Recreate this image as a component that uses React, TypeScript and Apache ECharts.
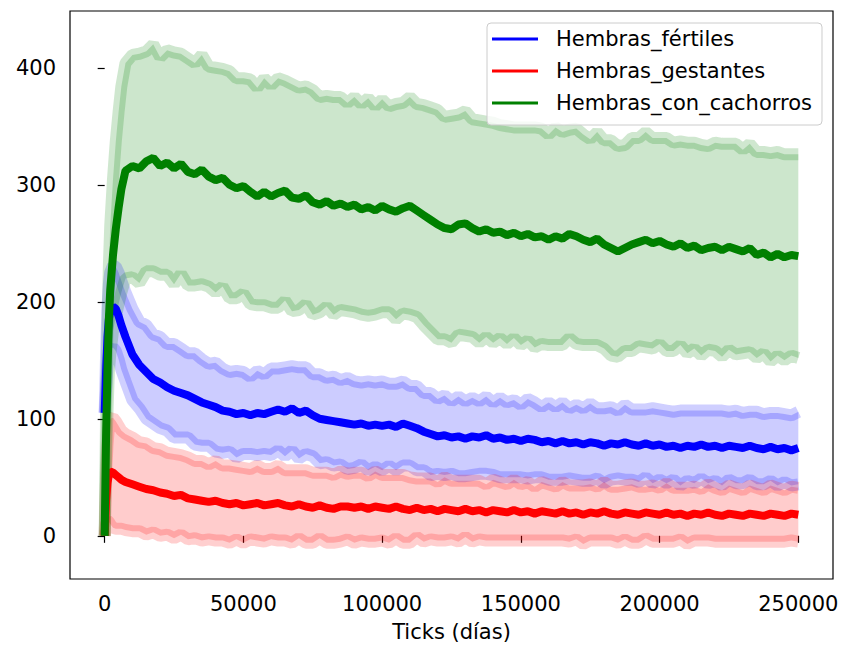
import React, { useEffect, useRef } from "react";
import * as echarts from "echarts";

const FONT = "DejaVu Sans";

const X = [
  0, 500, 1000, 1500, 2000, 3000, 4000, 5000, 6000, 7500, 10000,
  12500, 15000, 17500, 20000, 22500, 25000, 27500, 30000, 32500, 35000,
  37500, 40000, 42500, 45000, 47500, 50000, 52500, 55000, 57500, 60000,
  62500, 65000, 67500, 70000, 72500, 75000, 77500, 80000, 82500, 85000,
  87500, 90000, 92500, 95000, 97500, 100000, 102500, 105000, 107500, 110000,
  112500, 115000, 117500, 120000, 122500, 125000, 127500, 130000, 132500, 135000,
  137500, 140000, 142500, 145000, 147500, 150000, 152500, 155000, 157500, 160000,
  162500, 165000, 167500, 170000, 172500, 175000, 177500, 180000, 182500, 185000,
  187500, 190000, 192500, 195000, 197500, 200000, 202500, 205000, 207500, 210000,
  212500, 215000, 217500, 220000, 222500, 225000, 227500, 230000, 232500, 235000,
  237500, 240000, 242500, 245000, 247500, 250000,
];

const greenMean = [
  0, 85, 140, 185, 210, 240, 262, 280, 296, 312, 316,
  314, 320, 323, 316, 319, 314, 318, 311, 309, 313,
  307, 304, 306, 300, 297, 299, 294, 290, 294, 290,
  293, 295, 289, 288, 291, 285, 283, 286, 282, 284,
  281, 283, 279, 281, 278, 282, 279, 277, 280, 282,
  278, 274, 270, 266, 263, 262, 266, 267, 263, 260,
  262, 259, 260, 257, 259, 256, 258, 255, 256, 253,
  256, 254, 258, 256, 253, 251, 254, 249, 246, 243,
  246, 249, 251, 253, 250, 252, 249, 247, 250, 246,
  248, 244, 246, 247, 244, 247, 245, 243, 246, 240,
  242, 238, 241, 238, 240, 239,
];
const greenStd = [
  0, 20, 35, 45, 55, 65, 75, 82, 88, 92, 95,
  98, 94, 97, 93, 96, 99, 94, 97, 95, 98,
  94, 96, 93, 97, 94, 92, 96, 93, 97, 95,
  98, 94, 97, 95, 93, 96, 92, 90, 93, 91,
  89, 92, 90, 93, 89, 91, 88, 92, 90, 93,
  91, 94, 96, 98, 95, 97, 94, 96, 93, 95,
  92, 94, 91, 93, 90, 93, 91, 94, 92, 90,
  93, 91, 89, 92, 90, 88, 91, 89, 92, 90,
  88, 91, 89, 92, 90, 88, 91, 89, 87, 90,
  88, 90, 87, 89, 91, 88, 90, 87, 89, 88,
  86, 89, 87, 88, 86, 87,
];

const blueMean = [
  105, 140, 170, 185, 192, 196, 194, 188, 180, 170, 155,
  146, 140, 134, 131, 127, 124, 122, 120, 117, 114,
  112, 110, 107, 106, 104, 105, 103, 105, 104, 106,
  108, 106, 109, 105, 107, 103, 100, 99, 98, 97,
  96, 95, 96, 94, 95, 94, 95, 93, 96, 94,
  92, 89, 87, 85, 86, 84, 85, 83, 85, 84,
  86, 83, 84, 82, 83, 81, 83, 82, 80, 81,
  79, 81, 79, 80, 78, 80, 79, 77, 79, 78,
  80, 78, 77, 79, 77, 78, 76, 77, 75, 77,
  76, 78, 76, 77, 75, 77, 76, 75, 77, 75,
  74, 76, 74, 75, 73, 75,
];
const blueStd = [
  0, 15, 25, 30, 33, 35, 36, 37, 38, 38, 39,
  37, 40, 38, 39, 37, 40, 38, 36, 39, 37,
  35, 38, 36, 34, 37, 35, 33, 36, 34, 37,
  35, 38, 36, 39, 37, 35, 38, 36, 38, 36,
  39, 37, 35, 38, 36, 38, 35, 37, 36, 34,
  36, 33, 35, 32, 34, 31, 34, 32, 33, 31,
  33, 31, 34, 32, 33, 31, 34, 32, 30, 33,
  31, 33, 30, 32, 31, 33, 30, 32, 31, 29,
  32, 30, 31, 29, 32, 30, 31, 29, 32, 30,
  31, 29, 31, 30, 32, 29, 31, 30, 29, 31,
  30, 29, 31, 29, 30, 31,
];

const redMean = [
  0, 30, 45, 52, 55, 54, 52, 50, 48, 46, 44,
  42, 40, 39, 37, 36, 34, 35, 32, 31, 30,
  29, 30, 28, 27, 28, 26, 27, 28, 26, 27,
  28, 26, 25, 27, 25, 24, 26, 24, 23, 25,
  25, 24, 25, 23, 25, 24, 23, 25, 23, 22,
  24, 22, 23, 21, 23, 22, 21, 23, 21, 22,
  20, 22, 21, 20, 22, 20, 21, 19, 21, 20,
  19, 21, 19, 20, 18, 20, 19, 21, 19, 18,
  20, 19, 18, 20, 19, 18, 20, 18, 19, 17,
  19, 18, 20, 18, 17, 19, 18, 17, 19, 18,
  17, 19, 18, 17, 19, 18,
];
const redStd = [
  0, 20, 32, 40, 45, 47, 46, 44, 42, 41, 40,
  38, 39, 36, 37, 35, 36, 34, 35, 33, 34,
  32, 34, 32, 33, 31, 32, 30, 32, 31, 30,
  32, 30, 31, 29, 31, 30, 28, 30, 29, 30,
  28, 30, 29, 28, 30, 28, 29, 27, 29, 28,
  25, 27, 26, 25, 27, 25, 26, 24, 26, 25,
  24, 26, 25, 24, 26, 24, 25, 23, 25, 24,
  23, 25, 24, 23, 25, 24, 23, 25, 23, 24,
  23, 25, 24, 22, 24, 23, 25, 23, 22, 24,
  23, 22, 24, 23, 22, 24, 23, 22, 24, 23,
  22, 24, 23, 22, 23, 23,
];

const X_TICKS = [0, 50000, 100000, 150000, 200000, 250000];
const Y_TICKS = [0, 100, 200, 300, 400];

const SERIES_DEFS = [
  { name: "Hembras_fértiles", color: "#0000ff", mean: blueMean, std: blueStd },
  { name: "Hembras_gestantes", color: "#ff0000", mean: redMean, std: redStd },
  { name: "Hembras_con_cachorros", color: "#008000", mean: greenMean, std: greenStd },
];

function buildSeries() {
  const out: any[] = [];
  SERIES_DEFS.forEach((s) => {
    const lower = s.mean.map((m, i) => m - s.std[i]);
    const upper = s.mean.map((m, i) => m + s.std[i]);
    out.push({
      type: "custom",
      name: s.name + "_band",
      data: [[X[0], s.mean[0]]],
      silent: true,
      z: 2,
      renderItem: (_params: any, api: any) => {
        const pts: number[][] = [];
        for (let i = 0; i < X.length; i++) pts.push(api.coord([X[i], upper[i]]));
        for (let i = X.length - 1; i >= 0; i--) pts.push(api.coord([X[i], lower[i]]));
        return {
          type: "polygon",
          shape: { points: pts },
          style: { fill: s.color, opacity: 0.2 },
        };
      },
    });
    out.push({
      type: "line",
      name: s.name + "_up_edge",
      data: X.map((x, i) => [x, upper[i]]),
      symbol: "none",
      silent: true,
      lineStyle: { color: s.color, width: 12, opacity: 0.19 },
      z: 3,
    });
    out.push({
      type: "line",
      name: s.name + "_lo_edge",
      data: X.map((x, i) => [x, lower[i]]),
      symbol: "none",
      silent: true,
      lineStyle: { color: s.color, width: 12, opacity: 0.19 },
      z: 3,
    });
  });
  SERIES_DEFS.forEach((s) => {
    out.push({
      type: "line",
      name: s.name,
      data: X.map((x, i) => [x, s.mean[i]]),
      symbol: "none",
      silent: true,
      itemStyle: { color: s.color },
      lineStyle: { color: s.color, width: 8 },
      z: 5,
    });
  });
  return out;
}

export default function App() {
  const ref = useRef<HTMLDivElement>(null);
  useEffect(() => {
    if (!ref.current) return;
    const chart = echarts.init(ref.current, undefined, { renderer: "svg" });
    chart.setOption({
      animation: false,
      backgroundColor: "#ffffff",
      grid: {
        left: 70,
        right: 10,
        top: 11,
        bottom: 67,
        show: true,
        borderColor: "#000000",
        borderWidth: 1.2,
        backgroundColor: "transparent",
      },
      legend: {
        data: SERIES_DEFS.map((s) => s.name),
        orient: "vertical",
        left: 487,
        top: 23,
        icon: "rect",
        itemWidth: 46,
        itemHeight: 3,
        itemGap: 8,
        padding: [4, 10, 10, 5],
        backgroundColor: "rgba(255,255,255,0.8)",
        borderColor: "#cccccc",
        borderWidth: 1,
        borderRadius: 4,
        selectedMode: false,
        itemStyle: { borderWidth: 0 },
        textStyle: {
          fontFamily: FONT,
          fontSize: 21,
          color: "#000000",
          lineHeight: 24,
          padding: [0, 0, 0, 13],
        },
        z: 10,
      },
      xAxis: {
        type: "value",
        min: -12500,
        max: 262500,
        name: "Ticks (días)",
        nameLocation: "middle",
        nameGap: 42,
        nameTextStyle: { fontFamily: FONT, fontSize: 21, color: "#000000" },
        splitLine: { show: false },
        axisLine: { show: false },
        axisTick: {
          show: true,
          length: 7,
          customValues: X_TICKS,
          lineStyle: { color: "#000000", width: 1.2 },
        },
        axisLabel: {
          customValues: X_TICKS,
          margin: 14,
          fontFamily: FONT,
          fontSize: 21,
          color: "#000000",
          formatter: (v: number) => String(v),
        },
      },
      yAxis: {
        type: "value",
        min: -36.9,
        max: 448.5,
        splitLine: { show: false },
        axisLine: { show: false },
        axisTick: {
          show: true,
          length: 7,
          customValues: Y_TICKS,
          lineStyle: { color: "#000000", width: 1.2 },
        },
        axisLabel: {
          customValues: Y_TICKS,
          margin: 14,
          fontFamily: FONT,
          fontSize: 21,
          color: "#000000",
          formatter: (v: number) => String(v),
        },
      },
      series: buildSeries(),
    });
    return () => chart.dispose();
  }, []);
  return (
    <div
      ref={ref}
      style={{ position: "fixed", left: 0, top: 0, width: 843, height: 647 }}
    />
  );
}
